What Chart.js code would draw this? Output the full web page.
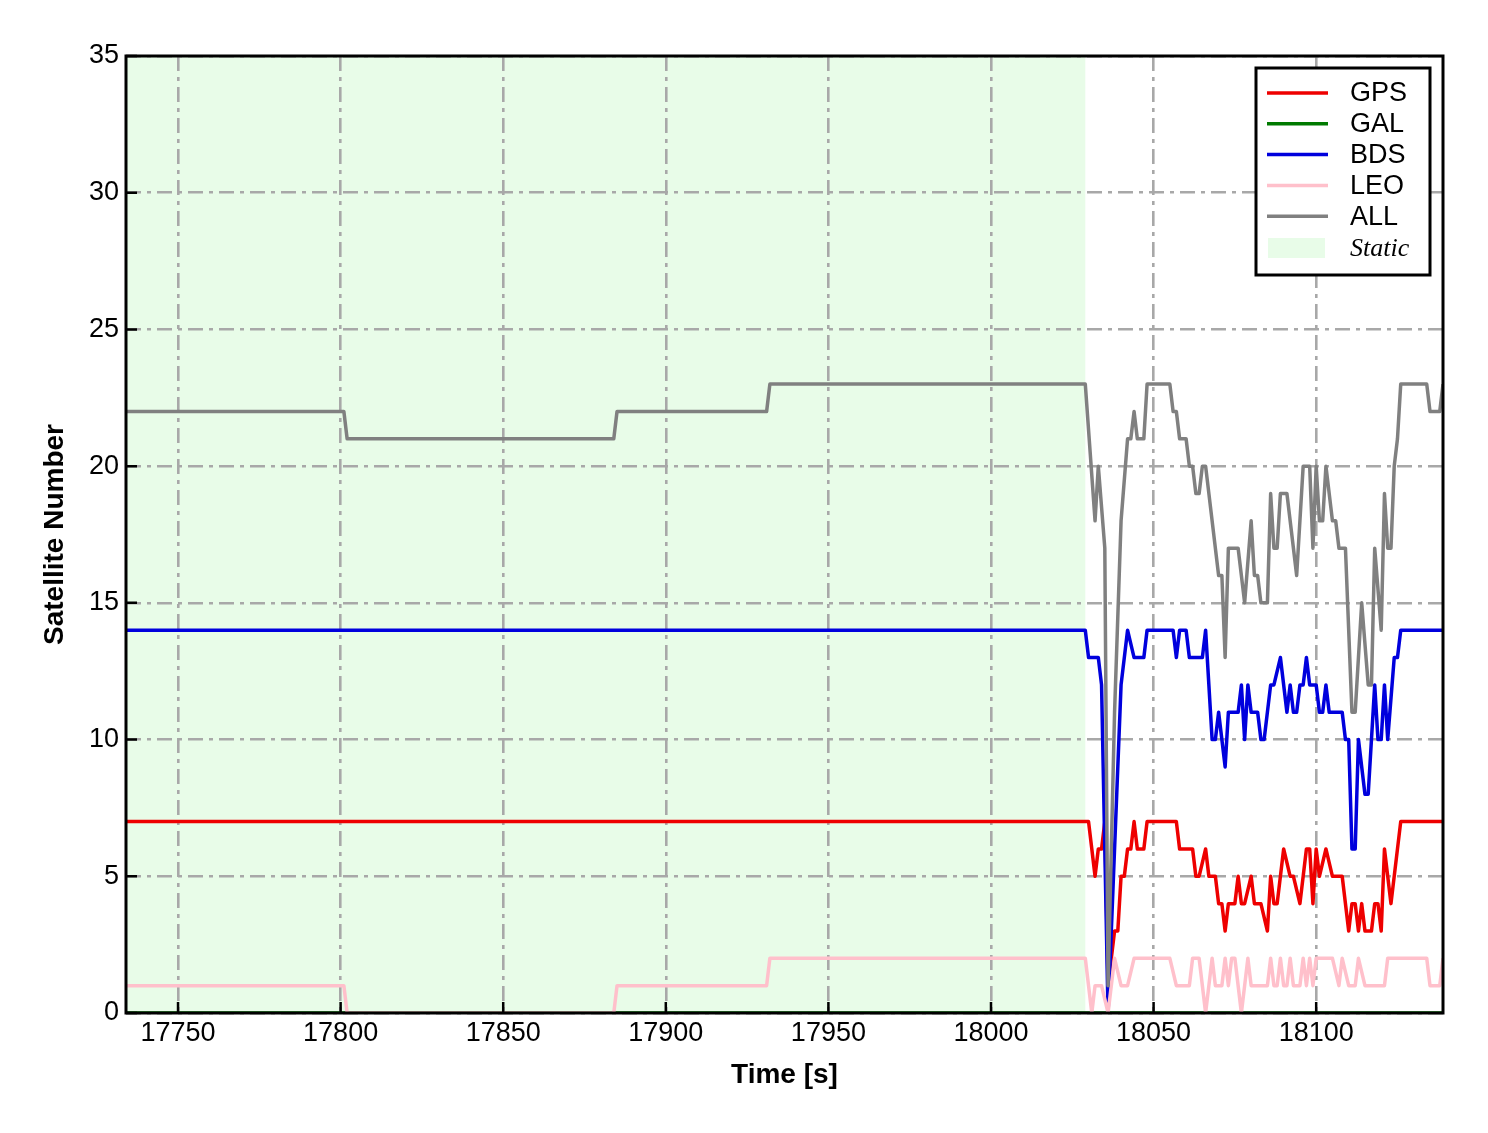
<!DOCTYPE html>
<html>
<head>
<meta charset="utf-8">
<script src="https://cdn.jsdelivr.net/npm/chart.js@4.4.1/dist/chart.umd.min.js"></script>
<style>
  html, body { margin: 0; padding: 0; background: #fff; }
  #wrap { width: 1488px; height: 1133px; }
</style>
</head>
<body>
<div id="wrap"><canvas id="satChart"></canvas></div>
<script>
// Satellite counts per system, as breakpoints (time [s], count)
const gpsTime = [17734, 18030, 18032, 18033, 18034, 18035, 18036, 18038, 18039, 18040, 18041, 18042, 18043, 18044, 18045, 18047, 18048, 18057, 18058, 18062, 18063, 18064, 18066, 18067, 18069, 18070, 18071, 18072, 18073, 18075, 18076, 18077, 18078, 18080, 18081, 18083, 18085, 18086, 18087, 18088, 18090, 18092, 18093, 18095, 18097, 18098, 18099, 18100, 18101, 18103, 18105, 18108, 18110, 18111, 18112, 18113, 18114, 18115, 18117, 18118, 18119, 18120, 18121, 18123, 18126, 18139];
const gpsCount = [7, 7, 5, 6, 6, 7, 1, 3, 3, 5, 5, 6, 6, 7, 6, 6, 7, 7, 6, 6, 5, 5, 6, 5, 5, 4, 4, 3, 4, 4, 5, 4, 4, 5, 4, 4, 3, 5, 4, 4, 6, 5, 5, 4, 6, 6, 4, 6, 5, 6, 5, 5, 3, 4, 4, 3, 4, 3, 3, 4, 4, 3, 6, 4, 7, 7];

const galTime = [17734, 18139];
const galCount = [0, 0];

const bdsTime = [17734, 18029, 18030, 18033, 18034, 18036, 18040, 18042, 18044, 18047, 18048, 18056, 18057, 18058, 18060, 18061, 18065, 18066, 18068, 18069, 18070, 18072, 18073, 18076, 18077, 18078, 18079, 18080, 18082, 18083, 18084, 18086, 18087, 18089, 18091, 18092, 18093, 18094, 18095, 18096, 18097, 18098, 18100, 18101, 18102, 18103, 18104, 18108, 18109, 18110, 18111, 18112, 18113, 18115, 18116, 18118, 18119, 18120, 18121, 18122, 18124, 18125, 18126, 18139];
const bdsCount = [14, 14, 13, 13, 12, 0, 12, 14, 13, 13, 14, 14, 13, 14, 14, 13, 13, 14, 10, 10, 11, 9, 11, 11, 12, 10, 12, 11, 11, 10, 10, 12, 12, 13, 11, 12, 11, 11, 12, 12, 13, 12, 12, 11, 11, 12, 11, 11, 10, 10, 6, 6, 10, 8, 8, 12, 10, 10, 12, 10, 13, 13, 14, 14];

const leoTime = [17734, 17801, 17802, 17884, 17885, 17931, 17932, 18029, 18031, 18032, 18034, 18036, 18038, 18040, 18042, 18044, 18055, 18057, 18061, 18062, 18064, 18066, 18067, 18068, 18069, 18071, 18072, 18073, 18074, 18075, 18077, 18078, 18079, 18080, 18085, 18086, 18087, 18088, 18089, 18090, 18091, 18092, 18093, 18095, 18096, 18097, 18098, 18099, 18100, 18105, 18107, 18108, 18110, 18112, 18113, 18115, 18121, 18122, 18134, 18135, 18138, 18139];
const leoCount = [1, 1, 0, 0, 1, 1, 2, 2, 0, 1, 1, 0, 2, 1, 1, 2, 2, 1, 1, 2, 2, 0, 1, 2, 1, 1, 2, 1, 2, 2, 0, 1, 2, 1, 1, 2, 1, 1, 2, 1, 1, 2, 1, 1, 2, 1, 2, 1, 2, 2, 1, 2, 1, 1, 2, 1, 1, 2, 2, 1, 1, 2];

const allTime = [17734, 17801, 17802, 17884, 17885, 17931, 17932, 18029, 18032, 18033, 18035, 18036, 18038, 18040, 18042, 18043, 18044, 18045, 18047, 18048, 18055, 18056, 18057, 18058, 18060, 18061, 18062, 18063, 18064, 18065, 18066, 18070, 18071, 18072, 18073, 18076, 18078, 18080, 18081, 18082, 18083, 18085, 18086, 18087, 18088, 18089, 18091, 18094, 18096, 18098, 18099, 18100, 18101, 18102, 18103, 18105, 18106, 18107, 18109, 18111, 18112, 18114, 18116, 18117, 18118, 18120, 18121, 18122, 18123, 18124, 18125, 18126, 18134, 18135, 18138, 18139];
const allCount = [22, 22, 21, 21, 22, 22, 23, 23, 18, 20, 17, 1, 11, 18, 21, 21, 22, 21, 21, 23, 23, 22, 22, 21, 21, 20, 20, 19, 19, 20, 20, 16, 16, 13, 17, 17, 15, 18, 16, 16, 15, 15, 19, 17, 17, 19, 19, 16, 20, 20, 17, 20, 18, 18, 20, 18, 18, 17, 17, 11, 11, 15, 12, 12, 17, 14, 19, 17, 17, 20, 21, 23, 23, 22, 22, 23];

// static period (shaded) and axis ticks
const staticStart = 17734;
const staticEnd = 18029;
const xTicks = [17750, 17800, 17850, 17900, 17950, 18000, 18050, 18100];
const yTicks = [0, 5, 10, 15, 20, 25, 30, 35];

const toPoints = (t, v) => t.map((x, i) => ({ x: x, y: v[i] }));

const series = [
  { label: 'GPS', time: gpsTime, count: gpsCount, color: '#ee0000' },
  { label: 'GAL', time: galTime, count: galCount, color: '#007a00' },
  { label: 'BDS', time: bdsTime, count: bdsCount, color: '#0000dd' },
  { label: 'LEO', time: leoTime, count: leoCount, color: '#ffc0cb' },
  { label: 'ALL', time: allTime, count: allCount, color: '#808080' }
];

const FONT = '"Liberation Sans", Arial, sans-serif';

// shaded static region under the grid
const staticShade = {
  id: 'staticShade',
  beforeDraw(chart) {
    const { ctx, chartArea, scales } = chart;
    const x0 = scales.x.getPixelForValue(staticStart);
    const x1 = scales.x.getPixelForValue(staticEnd);
    ctx.save();
    ctx.fillStyle = '#e8fce8';
    ctx.fillRect(x0, chartArea.top, x1 - x0, chartArea.bottom - chartArea.top);
    ctx.restore();
  }
};

// frame, inward ticks and legend box
const frameAndLegend = {
  id: 'frameAndLegend',
  afterDraw(chart) {
    const { ctx, chartArea: a, scales } = chart;
    ctx.save();
    ctx.strokeStyle = '#000';
    ctx.lineWidth = 2.5;
    ctx.beginPath();
    scales.x.ticks.forEach(t => {
      const px = scales.x.getPixelForValue(t.value);
      ctx.moveTo(px, a.bottom);
      ctx.lineTo(px, a.bottom - 11);
    });
    scales.y.ticks.forEach(t => {
      const py = scales.y.getPixelForValue(t.value);
      ctx.moveTo(a.left, py);
      ctx.lineTo(a.left + 11, py);
    });
    ctx.stroke();

    ctx.lineWidth = 3;
    ctx.strokeRect(a.left, a.top, a.right - a.left, a.bottom - a.top);

    // legend
    const bx = 1256, by = 68, bw = 174, bh = 207;
    ctx.fillStyle = '#fff';
    ctx.fillRect(bx, by, bw, bh);
    ctx.lineWidth = 3;
    ctx.strokeRect(bx, by, bw, bh);
    ctx.textBaseline = 'middle';
    ctx.textAlign = 'left';
    series.forEach((s, i) => {
      const y = 93 + i * 30.8;
      ctx.strokeStyle = s.color;
      ctx.lineWidth = 3.5;
      ctx.beginPath();
      ctx.moveTo(1267, y);
      ctx.lineTo(1328, y);
      ctx.stroke();
      ctx.fillStyle = '#000';
      ctx.font = '27px ' + FONT;
      ctx.fillText(s.label, 1350, y + 1);
    });
    ctx.fillStyle = '#e8fce8';
    ctx.fillRect(1268, 238, 57, 20);
    ctx.fillStyle = '#000';
    ctx.font = 'italic 26px "Liberation Serif", "DejaVu Serif", serif';
    ctx.fillText('Static', 1350, 249);
    ctx.restore();
  }
};

const gridStyle = {
  color: '#a8a8a8',
  lineWidth: 2.6,
  drawTicks: false
};

new Chart(document.getElementById('satChart'), {
  type: 'line',
  data: {
    datasets: series.map((s, i) => ({
      label: s.label,
      data: toPoints(s.time, s.count),
      borderColor: s.color,
      backgroundColor: s.color,
      borderWidth: 3.5,
      pointRadius: 0,
      tension: 0,
      fill: false,
      borderJoinStyle: 'round',
      order: series.length - i
    }))
  },
  options: {
    responsive: true,
    maintainAspectRatio: false,
    animation: false,
    events: [],
    layout: { padding: { left: 0, top: 56, right: 45, bottom: 0 } },
    plugins: {
      legend: { display: false },
      tooltip: { enabled: false }
    },
    scales: {
      x: {
        type: 'linear',
        min: staticStart,
        max: 18139,
        afterBuildTicks: scale => { scale.ticks = xTicks.map(v => ({ value: v })); },
        afterFit: scale => { scale.height = 120; },
        grid: gridStyle,
        border: { display: false, dash: [15, 6, 4, 6] },
        ticks: {
          padding: 4,
          color: '#000',
          maxRotation: 0,
          font: { family: FONT, size: 27 },
          callback: v => String(v)
        },
        title: {
          display: true,
          text: 'Time [s]',
          color: '#000',
          font: { family: FONT, size: 28, weight: 'bold' },
          padding: { top: 0, bottom: 41 }
        }
      },
      y: {
        min: 0,
        max: 35,
        afterBuildTicks: scale => { scale.ticks = yTicks.map(v => ({ value: v })); },
        afterFit: scale => { scale.width = 126; },
        grid: gridStyle,
        border: { display: false, dash: [15, 6, 4, 6] },
        ticks: {
          padding: 7,
          color: '#000',
          font: { family: FONT, size: 27 }
        },
        title: {
          display: true,
          text: 'Satellite Number',
          color: '#000',
          font: { family: FONT, size: 28, weight: 'bold' },
          padding: { top: 38, bottom: 0 }
        }
      }
    }
  },
  plugins: [staticShade, frameAndLegend]
});
</script>
</body>
</html>
